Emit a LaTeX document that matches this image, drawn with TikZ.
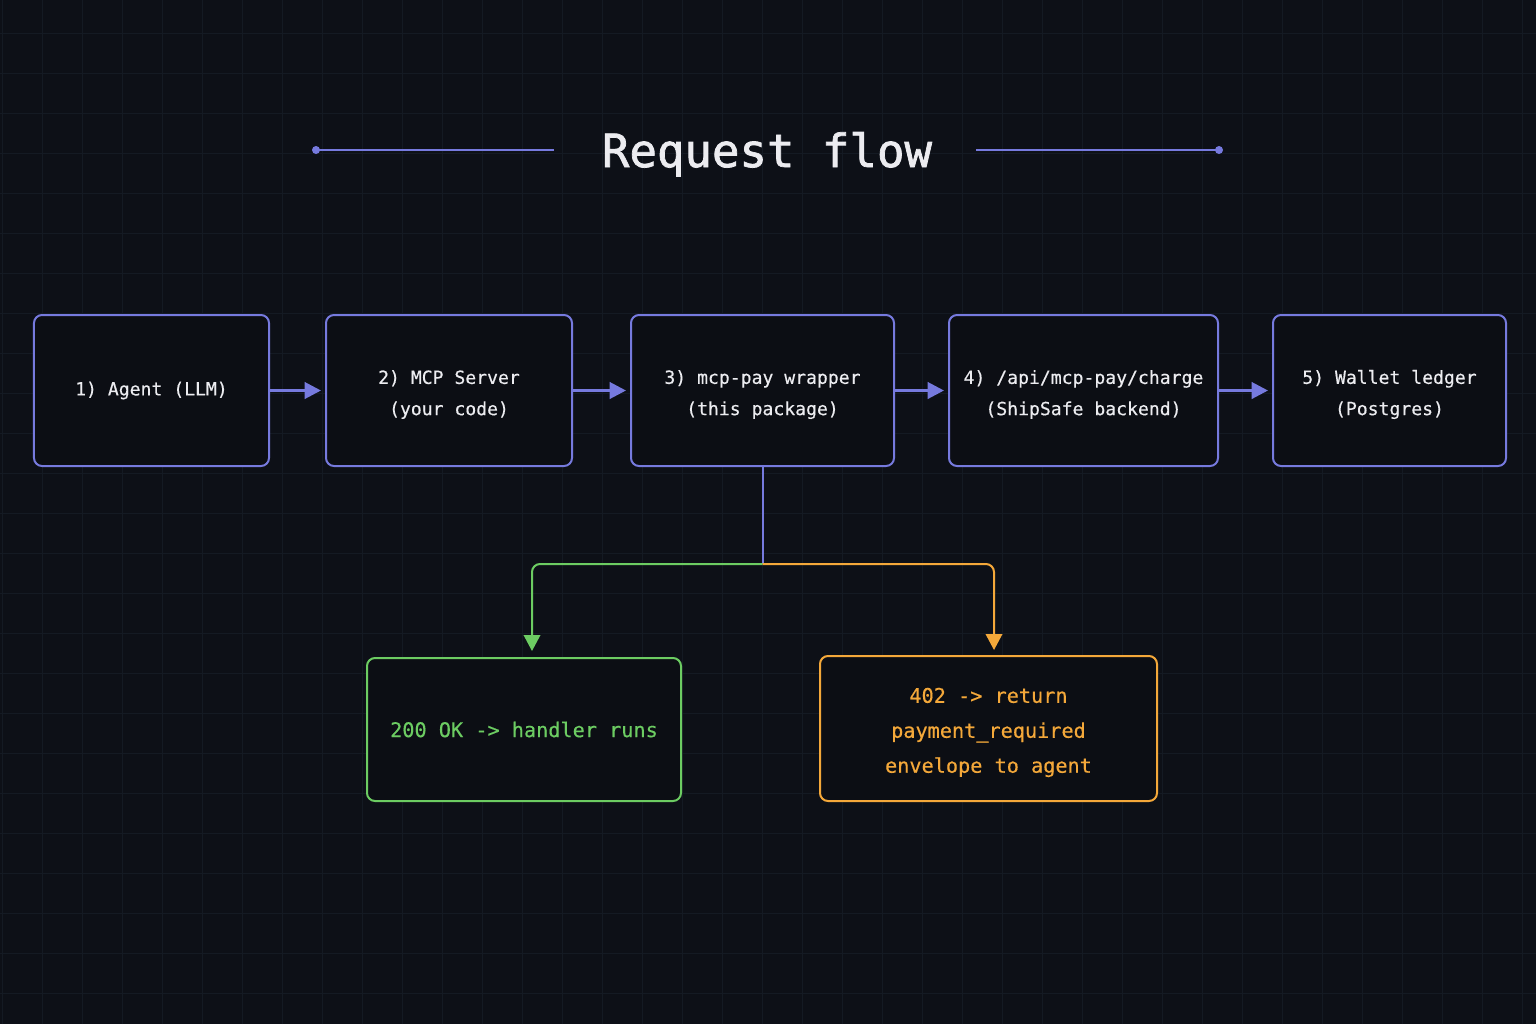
\documentclass[tikz,border=0pt]{standalone}
\usepackage{fontspec}
\setmonofont[FakeBold=0.4]{DejaVu Sans Mono}
\newfontfamily\titlefont[FakeBold=1.6]{DejaVu Sans Mono}
\usepackage{tikz}
\usetikzlibrary{arrows.meta,positioning}
\definecolor{flowbg}{RGB}{13,16,23}
\definecolor{flowgrid}{RGB}{20,26,35}
\definecolor{flowbox}{RGB}{12,14,20}
\definecolor{flowpurple}{RGB}{118,122,222}
\definecolor{flowgreen}{RGB}{108,204,98}
\definecolor{floworange}{RGB}{244,168,58}
\definecolor{flowtext}{RGB}{236,236,240}
\newcommand{\lift}[1]{\rule{0pt}{#1}}
\tikzset{
  stage/.style={draw=flowpurple, line width=0.4mm, rounded corners=1.6mm, fill=flowbox,
    minimum height=30.2mm, align=center, text=flowtext, inner sep=0pt,
    font=\ttfamily\fontsize{10.3}{17.8}\selectfont},
  outcome/.style={line width=0.4mm, rounded corners=1.6mm, fill=flowbox, align=center,
    inner sep=0pt, font=\ttfamily\fontsize{11.5}{19.9}\selectfont},
  flowarrow/.style={-{Triangle[length=3.3mm,width=3.3mm]}, flowpurple, line width=0.6mm, shorten >=0.8mm},
  brancharrow/.style={-{Triangle[length=3.2mm,width=3.3mm]}, line width=0.4mm, rounded corners=1.6mm},
}

\begin{document}
\begin{tikzpicture}[x=0.2mm, y=-0.2mm]
  \useasboundingbox (0,0) rectangle (1536,1024);
  \fill[flowbg] (0,0) rectangle (1536,1024);
  \begin{scope}
    \clip (0,0) rectangle (1536,1024);
    \draw[flowgrid, line width=0.2mm, shift={(2,33)}, step=8mm] (-2,-33) grid (1534,991);
  \end{scope}

  % title with side rules
  \node[anchor=base, text=flowtext, font=\titlefont\fontsize{26}{30}\selectfont] (title) at (767,167) {Request flow};
  \coordinate (ruleL) at (316,150);
  \coordinate (ruleR) at (1219,150);
  \draw[flowpurple, line width=0.4mm] (ruleL) -- (554,150);
  \draw[flowpurple, line width=0.4mm] (976,150) -- (ruleR);
  \fill[flowpurple] (ruleL) circle (0.8mm) (ruleR) circle (0.8mm);

  % main request chain
  \node[stage, minimum width=47mm] (p1) at (151.5,390.5) {1) Agent (LLM)};
  \node[stage, minimum width=49.2mm] (p2) at (449,390.5) {\lift{12.4pt}2) MCP Server\\(your code)};
  \node[stage, minimum width=52.6mm] (p3) at (762.5,390.5) {\lift{12.4pt}3) mcp-pay wrapper\\(this package)};
  \node[stage, minimum width=53.8mm] (p4) at (1083.5,390.5) {\lift{12.4pt}4) /api/mcp-pay/charge\\(ShipSafe backend)};
  \node[stage, minimum width=46.6mm] (p5) at (1389.5,390.5) {\lift{12.4pt}5) Wallet ledger\\(Postgres)};
  \draw[flowarrow] (p1) -- (p2);
  \draw[flowarrow] (p2) -- (p3);
  \draw[flowarrow] (p3) -- (p4);
  \draw[flowarrow] (p4) -- (p5);

  % outcomes of the wrapper
  \node[outcome, draw=flowgreen, text=flowgreen, minimum width=62.8mm, minimum height=28.6mm] (ok) at (524,729.5) {200 OK -> handler runs};
  \node[outcome, draw=floworange, text=floworange, minimum width=67.4mm, minimum height=29mm] (err) at (988.5,728.5) {\lift{13pt}402 -> return\\payment\_required\\envelope to agent};
  \coordinate (split) at (762.5,564);
  \draw[flowpurple, line width=0.4mm] (p3.south) -- (split);
  \draw[brancharrow, flowgreen, shorten >=1.2mm] (split) -| ([xshift=1.6mm]ok.north);
  \draw[brancharrow, floworange, shorten >=1mm] (split) -| ([xshift=1.1mm]err.north);
\end{tikzpicture}
\end{document}
